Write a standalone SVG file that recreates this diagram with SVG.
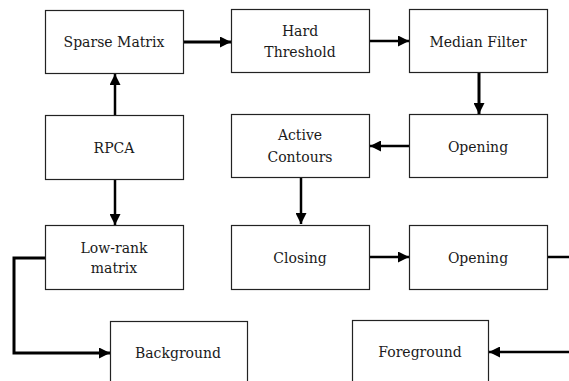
<svg xmlns="http://www.w3.org/2000/svg" width="569" height="381" viewBox="0 0 569 381">
<defs>
<style>
.box{fill:#fff;stroke:#222;stroke-width:1.2}
text{font-family:'DejaVu Serif',serif;font-size:14px;fill:#1a1a1a;text-anchor:middle}
.c{fill:none;stroke:#000;stroke-width:2.5}
.k{fill:none;stroke:#000;stroke-width:3}
</style>
<marker id="ah" viewBox="0 0 10 10" refX="10" refY="5" markerWidth="11" markerHeight="11" markerUnits="userSpaceOnUse" orient="auto"><path d="M0,0 L10,5 L0,10 Z" fill="#000"/></marker>
</defs>
<rect width="569" height="381" fill="#fff"/>
<g id="connectors">
<path class="c" d="M115,115 V74" marker-end="url(#ah)"/>
<path class="k" d="M183,42 H231" marker-end="url(#ah)"/>
<path class="c" d="M369,41 H409" marker-end="url(#ah)"/>
<path class="k" d="M479,72 V114" marker-end="url(#ah)"/>
<path class="c" d="M409,146 H370" marker-end="url(#ah)"/>
<path class="c" d="M301,177 V224" marker-end="url(#ah)"/>
<path class="c" d="M115,179 V225" marker-end="url(#ah)"/>
<path class="c" d="M369,257 H409" marker-end="url(#ah)"/>
<path class="c" d="M547,257 H569"/>
<path class="c" d="M569,352 H489" marker-end="url(#ah)"/>
<path class="k" d="M45,258 H14 V353 H110" marker-end="url(#ah)"/>
</g>
<g id="sparse"><rect class="box" x="45.5" y="10.5" width="138" height="63"/><text x="114" y="47">Sparse Matrix</text></g>
<g id="rpca"><rect class="box" x="45.5" y="115.5" width="138" height="64"/><text x="114" y="153">RPCA</text></g>
<g id="lowrank"><rect class="box" x="45.5" y="225.5" width="138" height="64"/><text x="114" y="253">Low-rank</text><text x="114" y="273">matrix</text></g>
<g id="hard"><rect class="box" x="231.5" y="9.5" width="138" height="63"/><text x="300" y="36">Hard</text><text x="300" y="57">Threshold</text></g>
<g id="active"><rect class="box" x="231.5" y="114.5" width="138" height="63"/><text x="300" y="140">Active</text><text x="300" y="162">Contours</text></g>
<g id="closing"><rect class="box" x="231.5" y="225.5" width="138" height="64"/><text x="300" y="263">Closing</text></g>
<g id="median"><rect class="box" x="409.5" y="9.5" width="138" height="63"/><text x="478" y="47">Median Filter</text></g>
<g id="opening1"><rect class="box" x="409.5" y="114.5" width="138" height="63"/><text x="478" y="152">Opening</text></g>
<g id="opening2"><rect class="box" x="409.5" y="225.5" width="138" height="64"/><text x="478" y="263">Opening</text></g>
<g id="background"><rect class="box" x="110.5" y="321.5" width="137" height="70"/><text x="178" y="358">Background</text></g>
<g id="foreground"><rect class="box" x="352.5" y="320.5" width="136" height="70"/><text x="420" y="357">Foreground</text></g>
</svg>
